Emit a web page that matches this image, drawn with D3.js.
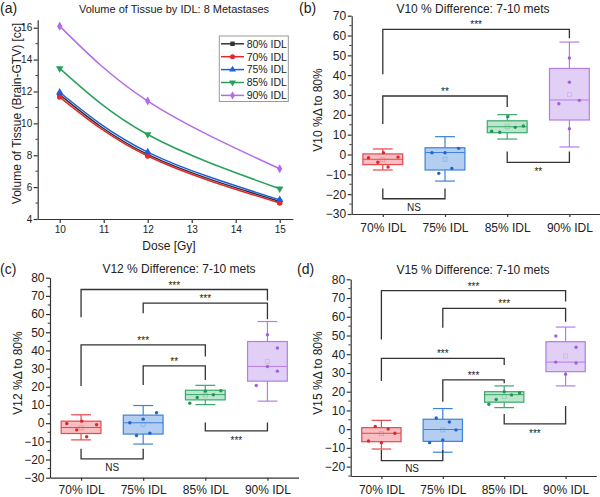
<!DOCTYPE html>
<html>
<head>
<meta charset="utf-8">
<script src="https://cdn.jsdelivr.net/npm/d3@7"></script>
<style>
  body { margin: 0; background: #fff; }
  svg { display: block; }
</style>
</head>
<body>
<svg id="chart" width="600" height="497"></svg>
<script>
// ---- panel (a): volume vs dose ----
const doses = [10, 12, 15];
const doseTicks = [10, 11, 12, 13, 14, 15];
const volTicks = [4, 6, 8, 10, 12, 14, 16];
const idlNames = ['80% IDL', '70% IDL', '75% IDL', '85% IDL', '90% IDL'];
const vol80 = [11.8, 8.05, 5.1];
const vol70 = [11.65, 7.95, 5.0];
const vol75 = [11.95, 8.2, 5.2];
const vol85 = [13.45, 9.3, 5.9];
const vol90 = [16.1, 11.4, 7.15];

// ---- panels (b)-(d): % difference to 80% IDL ----
const groups = ['70% IDL', '75% IDL', '85% IDL', '90% IDL'];
const pctTicks10 = [-30, -20, -10, 0, 10, 20, 30, 40, 50, 60, 70];
const pctTicks12 = [-30, -20, -10, 0, 10, 20, 30, 40, 50, 60, 70, 80];
const pctTicks15 = [-20, -10, 0, 10, 20, 30, 40, 50, 60, 70, 80];

// box stats: [whisker low, q1, median, q3, whisker high, mean]
const v10Box = [[-7.8, -5.1, -2.4, 0.3, 2.8, -2.6], [-13.4, -7.8, 1.0, 3.4, 9.0, -2.4],
                [7.8, 11.0, 14.0, 17.0, 20.1, 14.0], [3.8, 17.4, 27.5, 43.4, 56.7, 30.2]];
const v12Box = [[-9.2, -5.7, -2.4, 1.1, 4.6, -2.6], [-11.5, -6.0, 0.2, 4.4, 9.7, -0.7],
                [10.2, 12.8, 15.7, 18.1, 20.8, 15.4], [12.1, 23.1, 31.2, 44.9, 55.9, 33.9]];
const v15Box = [[-10.6, -6.7, -2.2, 0.8, 4.7, -2.4], [-12.3, -6.5, -0.2, 5.3, 11.0, -0.4],
                [11.5, 14.4, 18.4, 20.0, 23.1, 17.4], [23.1, 30.7, 35.8, 46.7, 54.5, 39.0]];

// individual metastases (left to right) and their jitter, in category steps
const v10Pts = [[-1.6, -3.9, 0.9, -6.3, -1.3], [0.9, -9.5, 0.9, -7.0, 3.1],
                [11.7, 11.2, 19.1, 13.7, 14.4], [25.6, 48.7, 36.5, 13.0, 27.3]];
const v10Jit = [[-0.23, -0.08, 0.01, 0.085, 0.245], [-0.21, -0.1, 0, 0.11, 0.22],
                [-0.25, -0.12, 0.01, 0.13, 0.26], [-0.17, 0, 0, 0, 0.16]];
const v12Pts = [[-0.2, -3.7, 1.1, -7.5, -0.9], [0.2, -6.8, 2.2, -5.5, 5.7],
                [11.0, 14.1, 17.6, 15.6, 17.8], [20.7, 48.6, 31.2, 41.3, 28.6]];
const v12Jit = [[-0.23, -0.07, 0.01, 0.09, 0.25], [-0.215, -0.107, 0, 0.107, 0.215],
                [-0.25, -0.13, 0, 0.13, 0.25], [-0.18, 0, 0, 0.16, 0.16]];
const v15Pts = [[-6.3, 1.4, -7.2, 0.1, -2.2], [-7.2, 6.0, -5.8, 3.8, -0.4],
                [13.3, 15.8, 20.0, 18.3, 19.3], [49.7, 35.8, 29.3, 43.7, 35.3]];
const v15Jit = [[-0.21, -0.1, 0, 0.11, 0.22], [-0.215, -0.107, 0, 0.107, 0.215],
                [-0.25, -0.13, 0, 0.12, 0.25], [-0.16, -0.16, 0, 0.17, 0.17]];

// significance brackets: [from, to, bar value, left end, right end, label]
const v10Sig = [[0, 3, 63.1, 40.5, 58.6, '***'], [0, 2, 29.5, 15.4, 24.0, '**'],
                [2, 3, -4.0, 1.5, 1.5, '**'], [0, 1, -22.3, -17.2, -17.2, 'NS']];
const v12Sig = [[0, 3, 73.5, 58.2, 67.4, '***'], [1, 3, 66.0, 60.4, 57.1, '***'],
                [0, 2, 43.1, 20.4, 36.7, '***'], [1, 2, 31.5, 21.0, 23.8, '**'],
                [2, 3, -4.2, 0.4, 0.4, '***'], [0, 1, -19.6, -14.1, -14.1, 'NS']];
const v15Sig = [[0, 3, 74.0, 47.9, 68.1, '***'], [1, 3, 64.5, 54.2, 57.4, '***'],
                [0, 2, 37.8, 25.7, 34.3, '***'], [1, 2, 26.3, 14.7, 24.5, '***'],
                [2, 3, 2.8, 8.1, 12.4, '***'], [0, 1, -16.8, -11.1, -11.1, 'NS']];

const FONT = '"Liberation Sans", Arial, Helvetica, sans-serif';
const INK = '#333';

const boxStroke = ['#e8474c', '#3b82d9', '#3aa86b', '#b47de8'];
const boxFill = ['#f6b4b6', '#a6c6ef', '#b3e0c5', '#dcc7f5'];
const dotFill = ['#e3242b', '#1f63cf', '#1f9652', '#a45ddf'];

const svg = d3.select('#chart').attr('font-family', FONT);
svg.append('rect').attr('width', 600).attr('height', 497).attr('fill', '#fff');

function styleAxis(sel, size) {
  sel.attr('font-family', FONT).attr('font-size', size).attr('color', INK);
  sel.selectAll('path.domain, .tick line').attr('stroke-width', 1.2);
  sel.selectAll('text').attr('fill', '#222');
}

function addText(g, txt, x, y, size, anchor) {
  return g.append('text').attr('x', x).attr('y', y).attr('font-size', size)
    .attr('text-anchor', anchor || 'middle').attr('fill', '#222').text(txt);
}

function addYLabel(g, txt, x, y, size) {
  g.append('text').attr('transform', `translate(${x},${y}) rotate(-90)`)
    .attr('text-anchor', 'middle').attr('font-size', size).attr('fill', '#222').text(txt);
}

// ---------- panel (a) ----------
(function drawLines() {
  const g = svg.append('g');
  const x = d3.scaleLinear().domain([9.5, 15.3]).range([37.7, 292.9]);
  const y = d3.scaleLinear().domain([4, 16.5]).range([219, 19.75]);

  g.append('g').attr('transform', 'translate(0,219)')
    .call(d3.axisBottom(x).tickValues(doseTicks).tickFormat(d3.format('d'))
      .tickSize(4).tickSizeOuter(0).tickPadding(3))
    .call(s => styleAxis(s, 10));
  g.append('g').attr('transform', 'translate(37.7,0)')
    .call(d3.axisLeft(y).tickValues(volTicks).tickSize(4).tickSizeOuter(0).tickPadding(1.5))
    .call(s => styleAxis(s, 10));
  g.selectAll('line.minor').data([5, 7, 9, 11, 13, 15]).join('line')
    .attr('x1', 37.7).attr('x2', 35.5).attr('y1', d => y(d)).attr('y2', d => y(d))
    .attr('stroke', INK).attr('stroke-width', 1);

  const series = [
    { name: idlNames[0], vals: vol80, color: '#333333', sym: d3.symbolSquare, rot: 0 },
    { name: idlNames[1], vals: vol70, color: '#e8262b', sym: d3.symbolCircle, rot: 0 },
    { name: idlNames[2], vals: vol75, color: '#1f5fd8', sym: d3.symbolTriangle, rot: 0 },
    { name: idlNames[3], vals: vol85, color: '#26a05a', sym: d3.symbolTriangle, rot: 180 },
    { name: idlNames[4], vals: vol90, color: '#b36ce8', sym: d3.symbolDiamond, rot: 0 }
  ];
  const line = d3.line().x((d, i) => x(doses[i])).y(d => y(d)).curve(d3.curveNatural);

  series.forEach(s => {
    g.append('path').attr('d', line(s.vals)).attr('fill', 'none')
      .attr('stroke', s.color).attr('stroke-width', 1.5);
    g.selectAll(null).data(s.vals).join('path')
      .attr('d', d3.symbol().type(s.sym).size(24))
      .attr('transform', (d, i) => `translate(${x(doses[i])},${y(d)}) rotate(${s.rot})`)
      .attr('fill', s.color);
  });

  // legend
  const lg = g.append('g');
  lg.append('rect').attr('x', 219.3).attr('y', 36).attr('width', 69).attr('height', 65.5)
    .attr('fill', '#fff').attr('stroke', '#999').attr('stroke-width', 1);
  series.forEach((s, i) => {
    const yy = 43.8 + i * 12.9;
    lg.append('line').attr('x1', 221).attr('x2', 244).attr('y1', yy).attr('y2', yy)
      .attr('stroke', s.color).attr('stroke-width', 1.5);
    lg.append('path').attr('d', d3.symbol().type(s.sym).size(20))
      .attr('transform', `translate(232.5,${yy}) rotate(${s.rot})`).attr('fill', s.color);
    addText(lg, s.name, 246.7, yy + 3.8, 10.5, 'start');
  });

  addText(g, 'Volume of Tissue by IDL: 8 Metastases', 174, 12.5, 11);
  addText(g, '(a)', 0, 12.8, 14, 'start');
  addText(g, 'Dose [Gy]', 169, 249.5, 12);
  addYLabel(g, 'Volume of Tissue (Brain-GTV) [cc]', 20.5, 113.5, 12);
})();

// ---------- panels (b)-(d) ----------
function drawBoxPanel(p) {
  const g = svg.append('g');
  const x = d3.scalePoint().domain(groups).range([p.left, p.right]).padding(0.5);
  const y = d3.scaleLinear().domain(p.domain).range([p.bottom, p.top]);
  const bw = x.step() * 0.64;

  g.append('g').attr('transform', `translate(${p.left},0)`)
    .call(d3.axisLeft(y).tickValues(p.ticks).tickSize(4).tickSizeOuter(0).tickPadding(1.5))
    .call(s => styleAxis(s, 12));
  const minor = d3.range(p.domain[0], p.domain[1] + 0.1, 5).filter(v => v % 10 !== 0);
  g.selectAll('line.minor').data(minor).join('line')
    .attr('x1', p.left).attr('x2', p.left - 2.3).attr('y1', d => y(d)).attr('y2', d => y(d))
    .attr('stroke', INK).attr('stroke-width', 1);

  g.append('g').attr('transform', `translate(0,${p.bottom})`)
    .call(d3.axisBottom(x).tickSize(3).tickSizeOuter(0))
    .call(s => styleAxis(s, 12))
    .call(s => s.selectAll('text').attr('y', p.xlabBase - p.bottom).attr('dy', null));

  // boxes
  p.box.forEach((b, i) => {
    const cx = x(groups[i]);
    const [lo, q1, med, q3, hi, mean] = b;
    const bg = g.append('g').attr('stroke', boxStroke[i]).attr('stroke-width', 1.2);
    bg.append('line').attr('x1', cx).attr('x2', cx).attr('y1', y(lo)).attr('y2', y(q1));
    bg.append('line').attr('x1', cx).attr('x2', cx).attr('y1', y(q3)).attr('y2', y(hi));
    [lo, hi].forEach(v => bg.append('line').attr('x1', cx - bw / 4).attr('x2', cx + bw / 4)
      .attr('y1', y(v)).attr('y2', y(v)));
    bg.append('rect').attr('x', cx - bw / 2).attr('width', bw)
      .attr('y', y(q3)).attr('height', y(q1) - y(q3))
      .attr('fill', boxFill[i]).attr('fill-opacity', 0.85);
    bg.append('line').attr('x1', cx - bw / 2).attr('x2', cx + bw / 2)
      .attr('y1', y(med)).attr('y2', y(med)).attr('stroke-width', 1);
    bg.append('rect').attr('x', cx - 2).attr('y', y(mean) - 2).attr('width', 4).attr('height', 4)
      .attr('fill', 'none').attr('stroke-opacity', 0.35).attr('stroke-width', 0.8);
  });

  // individual points
  p.pts.forEach((vals, i) => {
    g.selectAll(null).data(vals).join('circle')
      .attr('cx', (d, j) => x(groups[i]) + p.jit[i][j] * x.step())
      .attr('cy', d => y(d)).attr('r', 1.7).attr('fill', dotFill[i]);
  });

  // significance brackets
  p.sig.forEach(([a, b, bar, ya, yb, label]) => {
    const xa = x(groups[a]), xb = x(groups[b]);
    g.append('path')
      .attr('d', `M${xa},${y(ya)}V${y(bar)}H${xb}V${y(yb)}`)
      .attr('fill', 'none').attr('stroke', INK).attr('stroke-width', 1.3);
    const above = bar > ya;
    const ns = label === 'NS';
    const ty = above ? y(bar) - 1 : y(bar) + (ns ? 11.8 : 13);
    addText(g, label, (xa + xb) / 2, ty, 10);
  });

  addText(g, p.title, p.titleX, p.titleY, 12);
  addText(g, p.tag, p.tagX, p.tagY, 14, 'start');
  addYLabel(g, p.ylab, p.ylabX, p.ylabY, 12);
}

drawBoxPanel({
  left: 351.7, right: 600.5, top: 15.7, bottom: 214, domain: [-30, 70], ticks: pctTicks10,
  box: v10Box, pts: v10Pts, jit: v10Jit, sig: v10Sig, xlabBase: 231.7,
  title: 'V10 % Difference: 7-10 mets', titleX: 473, titleY: 13,
  tag: '(b)', tagX: 299, tagY: 12.8, ylab: 'V10 %Δ to 80%', ylabX: 321.5, ylabY: 110
});
drawBoxPanel({
  left: 50, right: 298.5, top: 277.7, bottom: 477.7, domain: [-30, 80], ticks: pctTicks12,
  box: v12Box, pts: v12Pts, jit: v12Jit, sig: v12Sig, xlabBase: 494,
  title: 'V12 % Difference: 7-10 mets', titleX: 179, titleY: 273.3,
  tag: '(c)', tagX: 0, tagY: 273.5, ylab: 'V12 %Δ to 80%', ylabX: 21.5, ylabY: 373
});
drawBoxPanel({
  left: 350.7, right: 596.3, top: 279.3, bottom: 476, domain: [-25, 80], ticks: pctTicks15,
  box: v15Box, pts: v15Pts, jit: v15Jit, sig: v15Sig, xlabBase: 494,
  title: 'V15 % Difference: 7-10 mets', titleX: 473, titleY: 274,
  tag: '(d)', tagX: 297, tagY: 274, ylab: 'V15 %Δ to 80%', ylabX: 321.5, ylabY: 373
});
</script>
</body>
</html>
